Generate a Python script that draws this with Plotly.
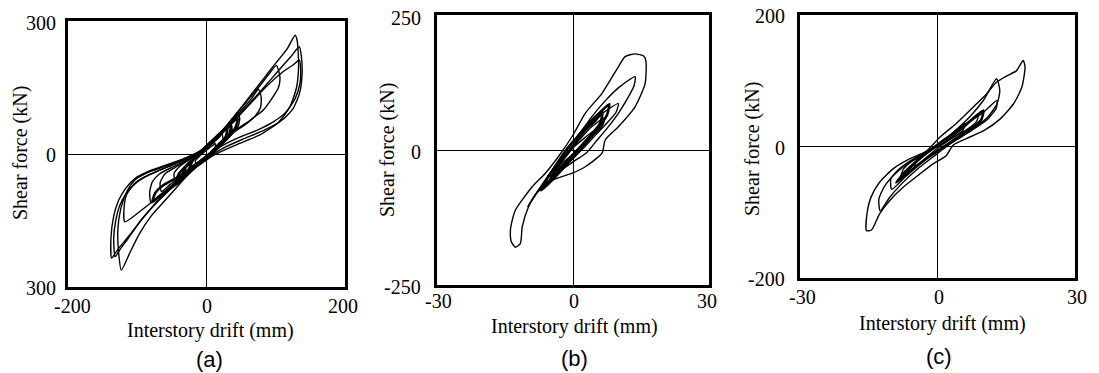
import plotly.graph_objects as go

# ---------------- Panel (a): loops (moving-right branch then moving-left branch) ----------------
a1_x = [-123, -127, -128, -124, -115, -103, -85, -60, -35, -15, 0, 20, 40, 60, 80, 100, 116, 128,
        131, 133, 130, 120, 103, 77, 48, 20, 0, -20, -40, -60, -80, -97, -111, -123]
a1_y = [-262, -220, -170, -125, -85, -58, -42, -28, -12, 2, 15, 45, 84, 125, 165, 205, 236, 268,
        255, 200, 150, 105, 70, 43, 24, 5, -12, -35, -70, -105, -140, -180, -224, -262]

a2_x = [-137, -138, -134, -127, -117, -103, -85, -60, -35, -15, 0, 15, 30, 55, 80, 105, 122, 134,
        137, 138, 134, 124, 108, 85, 55, 25, 0, -20, -45, -70, -92, -112, -128, -137]
a2_y = [-235, -190, -140, -105, -78, -55, -40, -26, -12, 0, 14, 35, 60, 102, 145, 190, 220, 242,
        220, 180, 135, 100, 75, 55, 35, 14, -10, -32, -68, -105, -145, -185, -215, -235]

a3_x = [-132, -134, -131, -125, -115, -100, -80, -55, -30, -12, 0, 15, 35, 60, 85, 110, 126, 134,
        136, 135, 128, 115, 97, 75, 48, 22, 0, -22, -47, -72, -95, -113, -126, -132]
a3_y = [-232, -190, -150, -115, -88, -63, -45, -28, -12, 2, 16, 38, 66, 108, 150, 185, 202, 212,
        190, 160, 125, 95, 73, 55, 38, 18, -8, -34, -72, -110, -150, -190, -218, -232]

a4_x = [-118, -119, -115, -105, -90, -70, -45, -20, 0, 20, 45, 70, 90, 101,
        106, 104, 96, 82, 62, 40, 18, 0, -20, -45, -70, -95, -118]
a4_y = [-153, -120, -90, -68, -52, -38, -22, -4, 18, 48, 95, 140, 180, 200,
        174, 150, 129, 99, 75, 52, 25, -6, -32, -64, -97, -128, -153]

a5_x = [-80, -82, -78, -68, -50, -28, -8, 10, 30, 50, 65, 75,
        79, 78, 70, 55, 35, 15, 0, -20, -40, -60, -80]
a5_y = [-110, -85, -62, -45, -30, -14, 4, 28, 60, 98, 125, 146,
        128, 105, 85, 65, 45, 18, -6, -30, -58, -86, -110]

a6_x = [-65, -67, -60, -45, -25, -5, 12, 28, 40, 45, 48, 45, 35, 20, 5, -15, -35, -52, -65]
a6_y = [-85, -65, -45, -30, -12, 8, 30, 58, 82, 95, 80, 60, 42, 22, 2, -22, -47, -68, -85]

a7_x = [-45, -47, -40, -25, -8, 8, 22, 30, 35, 37, 33, 22, 8, -8, -25, -38, -45]
a7_y = [-60, -45, -30, -12, 5, 25, 48, 60, 70, 55, 40, 22, 2, -16, -33, -48, -60]

a8_x = [-30, -31, -24, -12, 0, 10, 18, 22, 24, 18, 8, -5, -18, -26, -30]
a8_y = [-42, -30, -16, -2, 12, 26, 37, 45, 32, 18, 2, -12, -24, -34, -42]

a9_x = [-15, -16, -10, -2, 5, 10, 12, 13, 9, 2, -6, -12, -15]
a9_y = [-25, -15, -5, 6, 15, 21, 25, 12, 2, -8, -14, -20, -25]

# dense central cycles of panel (a)
ad1_x = [-35, -30, -15, 0, 15, 30, 45, 42, 30, 15, 0, -15, -35]
ad1_y = [-50, -30, -5, 18, 40, 62, 80, 60, 35, 12, -12, -28, -50]
ad2_x = [-25, -20, -8, 5, 20, 35, 33, 22, 8, -8, -25]
ad2_y = [-35, -15, 5, 25, 45, 65, 45, 25, 5, -15, -35]
ad3_x = [-45, -40, -25, -10, 5, 20, 30, 28, 15, 0, -15, -30, -45]
ad3_y = [-70, -45, -20, 0, 22, 45, 62, 40, 15, -8, -28, -50, -70]
ad4_x = [-78, -74, -62, -48, -35, -42, -55, -68, -78]
ad4_y = [-108, -88, -70, -58, -48, -65, -80, -95, -108]

# ---------------- Panel (b) ----------------
b1_x = [-13.4, -12.7, -9.0, -6.1, -3.2, -0.2, 2.7, 6.4, 10.0, 11.5, 13.7, 15.6,
        16.1, 15.9, 13.7, 10.0, 7.1, 6.4, 2.7, -0.2, -4.6, -7.6, -9.8, -11.2, -11.6, -12.7, -13.6, -13.8, -13.4]
b1_y = [-130, -111, -68, -43, -12, 25, 68, 105, 154, 173, 178, 174,
        164, 123, 80, 43, 18.5, -6, -31, -43, -56, -74, -105, -142, -173, -180, -170, -148, -130]

b2_x = [-10.0, -8.0, -6.0, -4.0, -1.5, 1.5, 4.0, 7.0, 10.0, 13.7,
        13.5, 12.0, 10.0, 7.5, 5.0, 3.0, 0.0, -3.0, -6.0, -8.5, -10.0]
b2_y = [-105, -80, -55, -30, 0, 30, 60, 90, 115, 136,
        120, 95, 68, 40, 15, -5, -22, -40, -62, -85, -105]

b3_x = [-8.0, -6.5, -4.5, -2.0, 0.5, 3.0, 6.0, 10.0, 9.5, 7.5, 5.0, 2.5, 0.0, -3.0, -5.5, -8.0]
b3_y = [-80, -60, -38, -12, 15, 40, 65, 86, 70, 50, 28, 5, -15, -35, -58, -80]

b4_x = [-6.0, -4.8, -3.0, -1.0, 1.5, 4.0, 7.0, 6.5, 4.5, 2.0, -0.5, -3.0, -6.0]
b4_y = [-55, -40, -22, -2, 20, 42, 60, 45, 28, 8, -12, -32, -55]

b5_x = [-4.0, -3.0, -1.5, 0.5, 2.5, 4.5, 4.2, 2.5, 0.5, -1.5, -4.0]
b5_y = [-35, -22, -8, 8, 22, 35, 24, 10, -4, -18, -35]

bd1_x = [-7.0, -5.5, -3.5, -1.5, 1.0, 3.5, 6.0, 8.0, 7.5, 5.5, 3.0, 0.5, -2.0, -4.5, -7.0]
bd1_y = [-75, -50, -25, 0, 25, 50, 70, 85, 65, 40, 15, -10, -32, -55, -75]
bd2_x = [-5.0, -3.5, -1.5, 0.5, 2.5, 5.0, 6.5, 6.0, 4.0, 1.5, -1.0, -3.0, -5.0]
bd2_y = [-55, -32, -10, 12, 35, 55, 70, 50, 28, 5, -18, -38, -55]

# ---------------- Panel (c) ----------------
c1_x = [-15.5, -15.4, -14.5, -12.6, -9.7, -6.1, -2.4, 0.5, 4.1, 7.8, 10.7, 12.9, 15.0, 17.2, 18.7,
        19.1, 18.4, 16.6, 13.7, 10.1, 6.3, 3.4, 1.9, -0.9, -3.9, -7.5, -10.4, -12.6, -14.4, -15.5]
c1_y = [-128, -103, -77, -54, -34, -19, -7, 14, 35, 60, 80, 98, 107, 115, 131,
        121, 90, 65, 42, 24, 12, 2, -14, -26, -42, -62, -82, -102, -127, -128]

c2_x = [-12.5, -12.8, -11.5, -9.0, -6.0, -3.0, 0.0, 3.5, 7.0, 10.0, 12.9,
        13.6, 13.0, 11.0, 8.0, 5.0, 2.0, -1.0, -4.5, -8.0, -10.5, -12.5]
c2_y = [-98, -80, -60, -40, -24, -12, 2, 22, 45, 70, 103,
        85, 65, 45, 28, 14, 0, -16, -35, -58, -78, -98]

c3_x = [-10.0, -10.2, -8.5, -6.0, -3.0, 0.0, 3.0, 6.5, 10.0, 13.0,
        12.8, 11.0, 8.0, 5.0, 2.0, -1.0, -4.0, -7.0, -10.0]
c3_y = [-65, -50, -35, -22, -10, 3, 18, 35, 52, 70,
        58, 42, 27, 14, 2, -12, -28, -46, -65]

c4_x = [-8.0, -7.5, -5.5, -3.0, 0.0, 3.0, 6.0, 9.0, 8.5, 6.0, 3.0, 0.0, -3.0, -5.5, -8.0]
c4_y = [-48, -35, -22, -12, 0, 14, 30, 50, 38, 24, 12, 0, -14, -30, -48]

c5_x = [-5.0, -4.5, -2.5, 0.0, 2.5, 6.0, 5.5, 3.0, 0.5, -2.0, -5.0]
c5_y = [-32, -20, -10, 2, 15, 35, 24, 12, 0, -14, -32]

cd1_x = [-9.0, -7.0, -4.5, -2.0, 1.0, 4.0, 7.0, 10.0, 9.5, 7.0, 4.0, 1.0, -2.0, -5.0, -9.0]
cd1_y = [-55, -38, -22, -8, 8, 22, 38, 55, 40, 26, 12, -2, -16, -32, -55]

# ---------------- Axes labels ----------------
a_xticks = [-200, 0, 200]
a_xtext = ["-200", "0", "200"]
a_yticks = [-300, 0, 300]
a_ytext = ["300", "0", "300"]
bc_xticks = [-30, 0, 30]
bc_xtext = ["-30", "0", "30"]
b_yticks = [-250, 0, 250]
b_ytext = ["-250", "0", "250"]
c_yticks = [-200, 0, 200]
c_ytext = ["-200", "0", "200"]
x_title = "Interstory drift (mm)"
y_title = "Shear force (kN)"
panel_labels = ["(a)", "(b)", "(c)"]

W, H = 1099, 373
SERIF = "Liberation Serif"
SANS = "Liberation Sans"

fig = go.Figure()

panels = [
    ("x", "y", [(a1_x, a1_y), (a2_x, a2_y), (a3_x, a3_y), (a4_x, a4_y), (a5_x, a5_y),
                (a6_x, a6_y), (a7_x, a7_y), (a8_x, a8_y), (a9_x, a9_y)],
     [(ad1_x, ad1_y), (ad2_x, ad2_y), (ad3_x, ad3_y), (ad4_x, ad4_y)]),
    ("x2", "y2", [(b1_x, b1_y), (b2_x, b2_y), (b3_x, b3_y), (b4_x, b4_y), (b5_x, b5_y)],
     [(bd1_x, bd1_y), (bd2_x, bd2_y)]),
    ("x3", "y3", [(c1_x, c1_y), (c2_x, c2_y), (c3_x, c3_y), (c4_x, c4_y), (c5_x, c5_y)],
     [(cd1_x, cd1_y)]),
]
for xa, ya, loops, dense in panels:
    for lx, ly in loops:
        fig.add_trace(go.Scatter(
            x=lx, y=ly, xaxis=xa, yaxis=ya, mode="lines",
            line=dict(color="black", width=1.4, shape="spline", smoothing=0.6),
            showlegend=False, hoverinfo="skip"))
    for lx, ly in dense:
        fig.add_trace(go.Scatter(
            x=lx, y=ly, xaxis=xa, yaxis=ya, mode="lines",
            line=dict(color="black", width=2.6, shape="spline", smoothing=0.6),
            showlegend=False, hoverinfo="skip"))

def px_dom_x(l, r):
    return [l / W, r / W]

def px_dom_y(t, b):
    return [1 - b / H, 1 - t / H]

common = dict(showgrid=False, zeroline=True, zerolinecolor="black", zerolinewidth=1.3,
              showline=True, mirror=True, linecolor="black", linewidth=2.5, ticks="",
              automargin=False, showticklabels=False, fixedrange=True)

fig.update_layout(
    width=W, height=H, margin=dict(l=0, r=0, t=0, b=0, autoexpand=False),
    paper_bgcolor="white", plot_bgcolor="white",
    xaxis=dict(domain=px_dom_x(68, 345), range=[-200, 200], tickvals=a_xticks, anchor="y", **common),
    yaxis=dict(domain=px_dom_y(21, 287), range=[-300, 300], tickvals=a_yticks, anchor="x", **common),
    xaxis2=dict(domain=px_dom_x(437, 709), range=[-30, 30], tickvals=bc_xticks, anchor="y2", **common),
    yaxis2=dict(domain=px_dom_y(15, 285), range=[-250, 250], tickvals=b_yticks, anchor="x2", **common),
    xaxis3=dict(domain=px_dom_x(800, 1075), range=[-30, 30], tickvals=bc_xticks, anchor="y3", **common),
    yaxis3=dict(domain=px_dom_y(15, 278), range=[-200, 200], tickvals=c_yticks, anchor="x3", **common),
)

TICK_FONT = dict(family=SERIF, size=20, color="black")

# tick labels placed through each axis' own scale
tick_specs = [
    # (xref, yref, xticks, xtext, xshifts, ydown, yticks, ytext, yshifts, xgap)
    ("x", "y", a_xticks, a_xtext, [4, 0, -2], 19, a_yticks, a_ytext, [-1, -1, -2], 10),
    ("x2", "y2", bc_xticks, bc_xtext, [1, 1, -2], 16, b_yticks, b_ytext, [-2, -2, -3], 14),
    ("x3", "y3", bc_xticks, bc_xtext, [2, 1, 2], 19, c_yticks, c_ytext, [-1, -1, -1], 13),
]
for xr, yr, xt, xtx, xsh, ydown, yt, ytx, ysh, xgap in tick_specs:
    for v, t, s in zip(xt, xtx, xsh):
        fig.add_annotation(text=t, x=v, xref=xr, y=0, yref=yr + " domain", showarrow=False,
                           xanchor="center", yanchor="middle", xshift=s, yshift=-ydown,
                           font=TICK_FONT)
    for v, t, s in zip(yt, ytx, ysh):
        fig.add_annotation(text=t, x=0, xref=xr + " domain", y=v, yref=yr, showarrow=False,
                           xanchor="right", yanchor="middle", xshift=-xgap, yshift=s,
                           font=TICK_FONT)

def ann(text, x, y, family=SERIF, size=20, angle=0):
    fig.add_annotation(text=text, x=x / W, y=1 - y / H, xref="paper", yref="paper",
                       showarrow=False, textangle=angle, xanchor="center", yanchor="middle",
                       font=dict(family=family, size=size, color="black"))

# x titles, panel labels, y titles
for (xt, yt), (pl_x, pl_y), (yx, yy), lab in zip(
        [(210, 330), (575, 326), (942, 323)],
        [(209, 359), (574, 358), (939, 356)],
        [(20, 153), (387, 150), (752, 149)],
        panel_labels):
    ann(x_title, xt, yt)
    ann(lab, pl_x, pl_y, family=SANS, size=22)
    ann(y_title, yx, yy, angle=-90)

fig.write_html("out.html")
